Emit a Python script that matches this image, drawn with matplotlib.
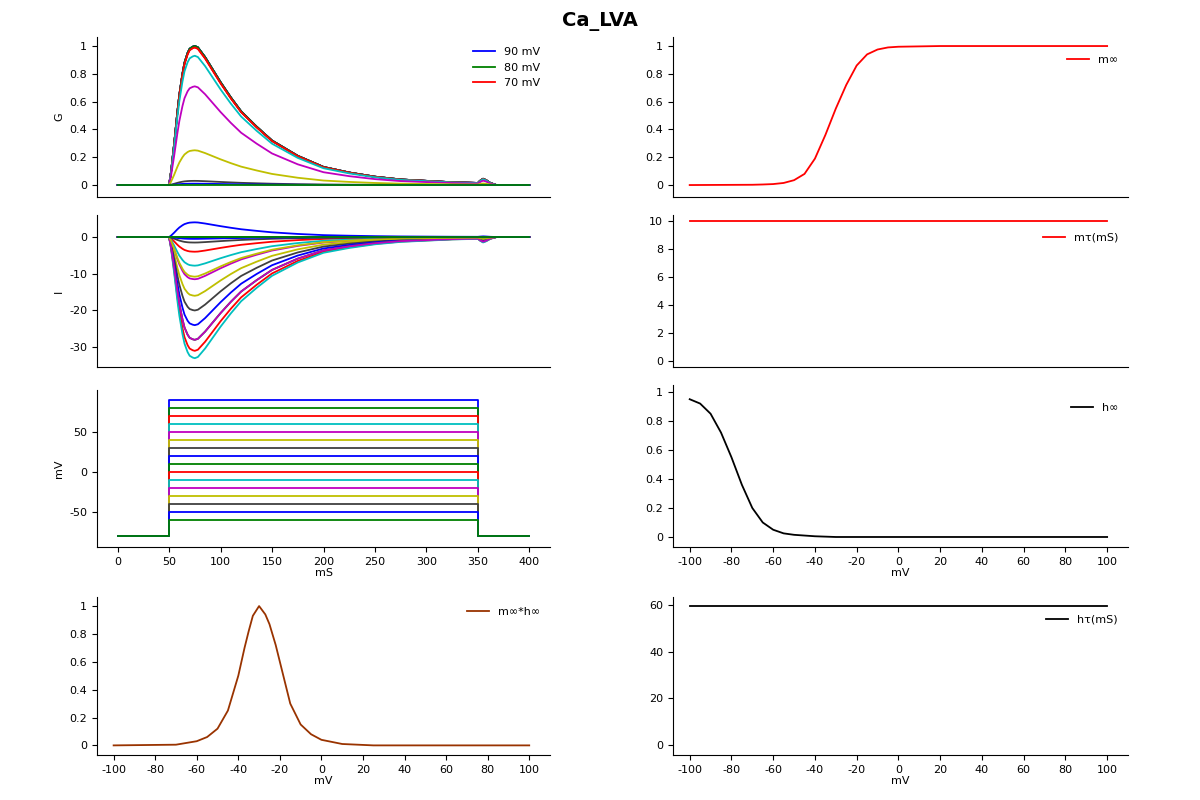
import numpy as np
import matplotlib
matplotlib.use('Agg')
import matplotlib.pyplot as plt
from matplotlib.ticker import FormatStrFormatter

## DADOS ##
# forma normalizada do transiente (pico em 75 ms)
t_pts = [0, 50, 52, 55, 58, 60, 63, 65, 68, 70, 73, 75, 78, 80, 85, 90, 95, 100, 110, 120, 135, 150, 175, 200, 225, 250, 275, 300, 325, 350, 352, 355, 358, 362, 368, 400]
forma = [0, 0, 0.1, 0.3, 0.52, 0.65, 0.8, 0.88, 0.95, 0.98, 0.995, 1.0, 0.99, 0.97, 0.92, 0.86, 0.8, 0.74, 0.63, 0.53, 0.42, 0.32, 0.21, 0.13, 0.09, 0.06, 0.04, 0.03, 0.02, 0.015, 0.03, 0.045, 0.035, 0.015, 0.0, 0]

volts = [90, 80, 70, 60, 50, 40, 30, 20, 10, 0, -10, -20, -30, -40, -50, -60]
g_pico = [1.0, 1.0, 0.99, 1.0, 1.0, 1.0, 1.0, 1.0, 1.0, 0.99, 0.93, 0.71, 0.25, 0.03, 0.01, 0.0]
i_pico = [4, 0, -4, -7.8, -11.5, -16, -20, -24, -28, -31, -33, -28, -10.8, -1.5, -0.5, 0]
cores = ['b', 'g', 'r', 'c', 'm', 'y', '#404040']
v_base = -80

v_m = [-100, -70, -65, -60, -55, -50, -45, -40, -35, -30, -25, -20, -15, -10, -5, 0, 20, 100]
m_inf = [0, 0.002, 0.004, 0.007, 0.015, 0.035, 0.08, 0.19, 0.36, 0.55, 0.72, 0.86, 0.94, 0.975, 0.99, 0.995, 1, 1]
v_h = [-100, -95, -90, -85, -80, -75, -70, -65, -60, -55, -50, -40, -30, 100]
h_inf = [0.95, 0.92, 0.85, 0.72, 0.55, 0.36, 0.2, 0.1, 0.05, 0.025, 0.015, 0.005, 0.0, 0.0]
v_mh = [-100, -70, -60, -55, -50, -45, -40, -37, -35, -33, -30, -27, -25, -22, -20, -15, -10, -5, 0, 10, 25, 100]
mh = [0, 0.005, 0.03, 0.06, 0.12, 0.25, 0.5, 0.7, 0.82, 0.93, 1.0, 0.94, 0.87, 0.72, 0.6, 0.3, 0.15, 0.08, 0.04, 0.01, 0, 0]
v_tau = [-100, 100]
m_tau = [10, 10]
h_tau = [59.5, 59.5]

## FIGURA ##
plt.rcParams['font.size'] = 8
plt.rcParams['axes.unicode_minus'] = False
fig = plt.figure(figsize=(12, 8), dpi=100)
fig.suptitle('Ca_LVA', fontsize=14, fontweight='bold', y=0.985)

def eixo(l, b, r, t):
    ax = fig.add_axes([l / 1200, 1 - b / 800, (r - l) / 1200, (b - t) / 800])
    ax.spines['top'].set_visible(False)
    ax.spines['right'].set_visible(False)
    ax.xaxis.set_major_formatter(FormatStrFormatter('%g'))
    ax.yaxis.set_major_formatter(FormatStrFormatter('%g'))
    return ax

fz = np.array(forma)
LW = 1.3

axG = eixo(97, 197, 550, 37)
for k, v in enumerate(volts):
    axG.plot(t_pts, g_pico[k] * fz, color=cores[k % 7], lw=LW, label='%d mV' % v)
axG.set_xlim(-20, 420); axG.set_ylim(-0.086, 1.065)
axG.set_xticks([]); axG.set_ylabel('G')
h, lab = axG.get_legend_handles_labels()
axG.legend(h[:3], lab[:3], frameon=False, loc='upper right')

axI = eixo(97, 367, 550, 215)
for k, v in enumerate(volts):
    axI.plot(t_pts, i_pico[k] * fz, color=cores[k % 7], lw=LW)
axI.set_xlim(-20, 420); axI.set_ylim(-35.4, 6)
axI.set_xticks([]); axI.set_ylabel('I')

axV = eixo(97, 547, 550, 390)
for k, v in enumerate(volts):
    axV.plot([0, 50, 50, 350, 350, 400], [v_base, v_base, v, v, v_base, v_base], color=cores[k % 7], lw=LW)
axV.set_xlim(-20, 420); axV.set_ylim(-93.75, 102.5)
axV.set_xticks(range(0, 401, 50)); axV.set_yticks([-50, 0, 50])
axV.set_xlabel('mS', labelpad=1); axV.set_ylabel('mV')

axMH = eixo(97, 755, 550, 597)
axMH.plot(v_mh, mh, color='#993300', lw=LW, label='m\u221e*h\u221e')
axMH.set_xlim(-108, 110); axMH.set_ylim(-0.069, 1.065)
axMH.set_xticks(range(-100, 101, 20)); axMH.set_xlabel('mV', labelpad=1)
axMH.legend(frameon=False, loc='upper right')

axM = eixo(673, 197, 1128, 37)
axM.plot(v_m, m_inf, 'r', lw=LW, label='m\u221e')
axM.set_xlim(-108, 110); axM.set_ylim(-0.086, 1.065); axM.set_xticks([])
axM.legend(frameon=False, loc='upper right', bbox_to_anchor=(1, 0.95))

axMT = eixo(673, 367, 1128, 215)
axMT.plot(v_tau, m_tau, 'r', lw=LW, label='m\u03c4(mS)')
axMT.set_xlim(-108, 110); axMT.set_ylim(-0.43, 10.43); axMT.set_xticks([])
axMT.legend(frameon=False, loc='upper right', bbox_to_anchor=(1, 0.95))

axH = eixo(673, 547, 1128, 385)
axH.plot(v_h, h_inf, 'k', lw=LW, label='h\u221e')
axH.set_xlim(-108, 110); axH.set_ylim(-0.069, 1.048)
axH.set_xticks(range(-100, 101, 20)); axH.set_xlabel('mV', labelpad=1)
axH.legend(frameon=False, loc='upper right', bbox_to_anchor=(1, 0.95))

axHT = eixo(673, 755, 1128, 597)
axHT.plot(v_tau, h_tau, 'k', lw=LW, label='h\u03c4(mS)')
axHT.set_xlim(-108, 110); axHT.set_ylim(-4.3, 63.4)
axHT.set_xticks(range(-100, 101, 20)); axHT.set_yticks([0, 20, 40, 60])
axHT.set_xlabel('mV', labelpad=1)
axHT.legend(frameon=False, loc='upper right', bbox_to_anchor=(1, 0.95))

fig.savefig('out.png', dpi=100)
